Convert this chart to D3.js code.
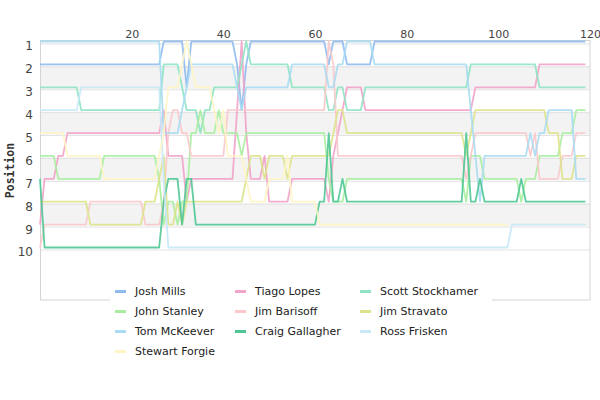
<!DOCTYPE html>
<html>
<head>
<meta charset="utf-8">
<script src="https://cdn.jsdelivr.net/npm/d3@7"></script>
<style>
  body { margin: 0; background: #fff; }
  svg { display: block; }
</style>
</head>
<body>
<svg id="chart" width="600" height="400"></svg>
<script>
"use strict";

// ── data: race position per lap (index = lap number) ─────────────────────────
const drivers = [
  "Josh Mills", "Tiago Lopes", "Scott Stockhamer",
  "John Stanley", "Jim Barisoff", "Jim Stravato",
  "Tom McKeever", "Craig Gallagher", "Ross Frisken",
  "Stewart Forgie",
];

const driverColors = [
  "#8ebaf0", "#f2a3c9", "#8fe3c3",
  "#a9ee9f", "#f9c9cb", "#dde38a",
  "#a8dcf3", "#4fc795", "#c8e8f8",
  "#fff5c4",
];

const joshMills = [
  2,2,2,2,2,2,2,2,2,2, 2,2,2,2,2,2,2,2,2,2,
  2,2,2,2,2,2,2,1,1,1, 1,1,3,1,1,1,1,1,1,1,
  1,1,1,2,4,2,1,1,1,1, 1,1,1,1,1,1,1,1,1,1,
  1,1,1,2,1,1,1,2,2,2, 2,2,2,1,1,1,1,1,1,1,
  1,1,1,1,1,1,1,1,1,1, 1,1,1,1,1,1,1,1,1,1,
  1,1,1,1,1,1,1,1,1,1, 1,1,1,1,1,1,1,1,1,1,
];
const tiagoLopes = [
  9,7,7,7,6,6,5,5,5,5, 5,5,5,5,5,5,5,5,5,5,
  5,5,5,5,5,5,5,4,6,6, 6,6,8,7,7,7,7,7,7,7,
  7,7,7,4,1,5,7,7,7,6, 8,8,8,8,8,7,7,7,7,7,
  7,7,7,8,6,5,4,3,3,3, 3,4,4,4,4,4,4,4,4,4,
  4,4,4,4,4,4,4,4,4,4, 4,4,4,4,4,3,3,3,3,3,
  3,3,3,3,3,3,3,3,3,2, 2,2,2,2,2,2,2,2,2,2,
];
const scottStockhamer = [
  3,3,3,3,3,3,3,3,3,4, 4,4,4,4,4,4,4,4,4,4,
  4,4,4,4,4,4,4,2,2,2, 2,3,4,4,4,5,4,4,3,3,
  3,3,3,3,2,1,2,2,2,2, 2,2,2,2,2,3,3,3,3,3,
  3,3,3,4,4,3,3,4,4,4, 4,3,3,3,3,3,3,3,3,3,
  3,3,3,3,3,3,3,3,3,3, 3,3,3,3,2,2,2,2,2,2,
  2,2,2,2,2,2,2,2,2,3, 3,3,3,3,3,3,3,3,3,3,
];
const johnStanley = [
  6,6,6,6,7,7,7,7,7,7, 7,7,7,7,6,6,6,6,6,6,
  6,6,6,6,6,6,7,9,8,8, 9,8,8,5,5,4,5,5,5,4,
  5,5,5,5,6,5,5,5,5,5, 5,5,5,5,5,5,5,5,5,5,
  5,5,5,7,8,8,8,7,7,7, 7,7,7,7,7,7,7,7,7,7,
  7,7,7,7,7,7,7,7,7,7, 7,7,7,8,6,6,6,7,7,7,
  7,7,7,7,7,8,7,7,7,6, 6,6,6,6,5,5,5,4,4,4,
];
const jimBarisoff = [
  10,9,9,9,9,9,9,9,9,9, 9,8,8,8,8,8,8,8,8,8,
  8,8,8,9,9,9,9,8,5,4, 4,5,5,6,6,6,6,6,6,6,
  6,4,4,4,4,4,4,4,4,4, 4,4,4,4,4,4,4,4,4,4,
  4,4,4,1,2,6,6,6,6,6, 6,6,6,6,6,6,6,6,6,6,
  6,6,6,6,6,6,6,6,6,6, 6,6,6,7,6,5,5,5,5,5,
  5,5,5,5,5,5,5,6,5,7, 7,7,7,7,6,6,6,5,5,5,
];
const jimStravato = [
  8,8,8,8,8,8,8,8,8,8, 8,9,9,9,9,9,9,9,9,9,
  9,9,9,8,8,8,7,6,9,9, 8,9,8,8,8,8,8,8,8,8,
  8,8,8,8,8,7,6,6,6,7, 6,6,6,6,7,6,6,6,6,6,
  6,6,6,6,5,4,4,5,5,5, 5,5,5,5,5,5,5,5,5,5,
  5,5,5,5,5,5,5,5,5,5, 5,5,5,6,5,4,4,4,4,4,
  4,4,4,4,4,4,4,4,4,4, 4,5,5,5,7,7,7,6,6,6,
];
const tomMcKeever = [
  1,1,1,1,1,1,1,1,1,1, 1,1,1,1,1,1,1,1,1,1,
  1,1,1,1,1,1,1,5,5,5, 5,4,3,2,2,2,2,2,2,2,
  2,2,2,3,4,3,3,3,3,3, 3,3,3,3,3,2,2,2,2,2,
  2,2,2,3,3,2,2,1,1,1, 1,1,1,2,2,2,2,2,2,2,
  2,2,2,2,2,2,2,2,2,2, 2,2,2,2,4,6,8,6,6,6,
  6,6,6,6,6,6,6,5,6,5, 5,4,4,4,4,4,4,7,7,7,
];
const craigGallagher = [
  7,10,10,10,10,10,10,10,10,10, 10,10,10,10,10,10,10,10,10,10,
  10,10,10,10,10,10,10,8,7,7, 7,9,7,7,9,9,9,9,9,9,
  9,9,9,9,9,9,9,9,9,9, 9,9,9,9,9,9,9,9,9,9,
  9,8,8,5,8,8,7,8,8,8, 8,8,8,8,8,8,8,8,8,8,
  8,8,8,8,8,8,8,8,8,8, 8,8,8,5,8,8,7,8,8,8,
  8,8,8,8,8,7,8,8,8,8, 8,8,8,8,8,8,8,8,8,8,
];
const rossFrisken = [
  4,4,4,4,4,4,4,4,4,3, 3,3,3,3,3,3,3,3,3,3,
  3,3,3,3,3,3,3,7,10,10, 10,10,10,10,10,10,10,10,10,10,
  10,10,10,10,10,10,10,10,10,10, 10,10,10,10,10,10,10,10,10,10,
  10,10,10,10,10,10,10,10,10,10, 10,10,10,10,10,10,10,10,10,10,
  10,10,10,10,10,10,10,10,10,10, 10,10,10,10,10,10,10,10,10,10,
  10,10,10,9,9,9,9,9,9,9, 9,9,9,9,9,9,9,9,9,9,
];
// retired after lap 102
const stewartForgie = [
  5,5,5,5,5,5,6,6,6,6, 6,6,6,6,7,7,7,7,7,7,
  7,7,7,7,7,7,6,5,3,3, 3,2,1,2,3,3,3,3,4,5,
  4,6,6,6,6,7,8,8,8,8, 7,7,7,7,6,8,8,8,8,8,
  8,9,9,9,9,9,9,9,9,9, 9,9,9,9,9,9,9,9,9,9,
  9,9,9,9,9,9,9,9,9,9, 9,9,9,9,9,9,9,9,9,9,
  9,9,9,
];

const positions = [
  joshMills, tiagoLopes, scottStockhamer,
  johnStanley, jimBarisoff, jimStravato,
  tomMcKeever, craigGallagher, rossFrisken,
  stewartForgie,
];

const lapTicks = [20, 40, 60, 80, 100, 120];
const positionTicks = [1, 2, 3, 4, 5, 6, 7, 8, 9, 10];
const shadedRows = [2, 4, 6, 8];

// ── layout ───────────────────────────────────────────────────────────────────
const plot = { left: 40, right: 590, top: 40, bottom: 300 };

const svg = d3.select("#chart");

const x = d3.scaleLinear().domain([0, 120]).range([plot.left, plot.right]);
const y = d3.scaleLinear().domain([1, 10]).range([41.5, 247.5]);

// shaded bands + row lines
svg.append("g")
  .selectAll("rect").data(shadedRows).enter().append("rect")
  .attr("x", plot.left)
  .attr("y", d => y(d) + 1.5)
  .attr("width", plot.right - plot.left)
  .attr("height", d => y(d + 1) - y(d))
  .attr("fill", "#f3f3f3");

svg.append("g")
  .selectAll("line").data(positionTicks).enter().append("line")
  .attr("x1", plot.left).attr("x2", plot.right)
  .attr("y1", d => y(d) + 2.5).attr("y2", d => y(d) + 2.5)
  .attr("stroke", "#e2e2e2");

// frame
svg.append("rect")
  .attr("x", plot.left + 0.5).attr("y", plot.top + 0.5)
  .attr("width", plot.right - plot.left - 0.5)
  .attr("height", plot.bottom - plot.top - 0.5)
  .attr("fill", "none")
  .attr("stroke", "#d4d4d4");

// ── lines ────────────────────────────────────────────────────────────────────
const line = d3.line()
  .x((d, i) => x(i))
  .y(d => y(d));

svg.append("g")
  .selectAll("path").data(positions).enter().append("path")
  .attr("fill", "none")
  .attr("stroke", (d, i) => driverColors[i])
  .attr("stroke-width", 1.8)
  .attr("stroke-opacity", 0.9)
  .attr("stroke-linejoin", "round")
  .attr("d", line);

// ── axes ─────────────────────────────────────────────────────────────────────
svg.append("g")
  .attr("transform", `translate(0,${plot.top})`)
  .call(d3.axisTop(x).tickValues(lapTicks).tickSize(0).tickPadding(2))
  .call(ax => {
    ax.select(".domain").remove();
    ax.selectAll("text")
      .attr("fill", "#444")
      .attr("font-family", "DejaVu Sans, sans-serif")
      .attr("font-size", 11);
  });

svg.append("g")
  .attr("transform", `translate(${plot.left},0)`)
  .call(d3.axisLeft(y).tickValues(positionTicks).tickSize(0).tickPadding(7))
  .call(ax => {
    ax.select(".domain").remove();
    ax.selectAll("text")
      .attr("fill", "#444")
      .attr("dy", "0.7em")
      .attr("font-family", "DejaVu Sans, sans-serif")
      .attr("font-size", 12);
  });

svg.append("text")
  .attr("transform", "translate(10,170.5) rotate(-90)")
  .attr("text-anchor", "middle")
  .attr("dominant-baseline", "central")
  .attr("font-family", "DejaVu Sans Mono, monospace")
  .attr("font-weight", "bold")
  .attr("font-size", 11.5)
  .attr("fill", "#333")
  .text("Position");

// ── legend ───────────────────────────────────────────────────────────────────
const legendCols = [115, 235, 360];
const legendRowY = 291.5, legendRowStep = 20;

svg.append("rect")
  .attr("x", 110).attr("y", 280)
  .attr("width", 382).attr("height", 84)
  .attr("fill", "#fff");

const item = svg.append("g")
  .selectAll("g").data(drivers).enter().append("g")
  .attr("transform", (d, i) =>
    `translate(${legendCols[i % 3]},${legendRowY + Math.floor(i / 3) * legendRowStep})`);

item.append("line")
  .attr("x1", 0).attr("x2", 11)
  .attr("stroke", (d, i) => driverColors[i])
  .attr("stroke-width", 3);

item.append("text")
  .attr("x", 20)
  .attr("dy", "0.35em")
  .attr("font-family", "DejaVu Sans, sans-serif")
  .attr("font-size", 11)
  .attr("fill", "#222")
  .text(d => d);
</script>
</body>
</html>
